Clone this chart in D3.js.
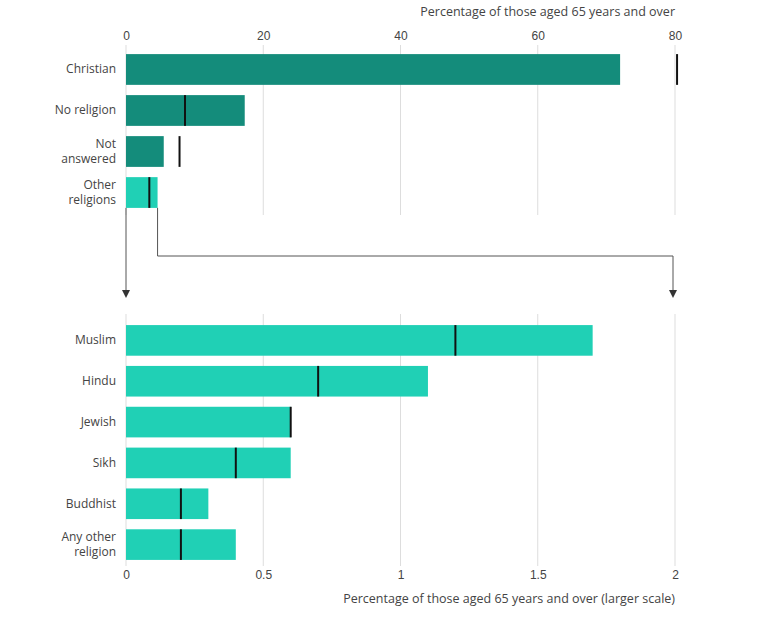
<!DOCTYPE html>
<html><head><meta charset="utf-8">
<script src="https://cdn.jsdelivr.net/npm/d3@7"></script>
<style>body{margin:0;background:#fff;font-family:"Open Sans",sans-serif;}text{fill:#444;font-size:12px;}</style>
</head><body><script>
const topCats = ["Christian","No religion","Not answered","Other religions"];
const topValues = [72, 17.3, 5.5, 4.6];
const topMarkers = [80.3, 8.6, 7.8, 3.4];
const topColors = ["#148c7b","#148c7b","#148c7b","#20d0b5"];
const topTicks = [0,20,40,60,80];
const botCats = ["Muslim","Hindu","Jewish","Sikh","Buddhist","Any other religion"];
const botValues = [1.7, 1.1, 0.6, 0.6, 0.3, 0.4];
const botMarkers = [1.2, 0.7, 0.6, 0.4, 0.2, 0.2];
const botTicks = [0,0.5,1,1.5,2];

const svg = d3.select("body").append("svg").attr("width",761).attr("height",620);
const x1 = d3.scaleLinear().domain([0,80]).range([126,675]);
const x2 = d3.scaleLinear().domain([0,2]).range([126,675]);
const y1 = d3.scaleBand().domain(topCats).range([50,212]).paddingInner(0.25).paddingOuter(0.1);
const y2 = d3.scaleBand().domain(botCats).range([321,564]).paddingInner(0.25).paddingOuter(0.1);

function label(g, y, d){
  const words = d==="Not answered"?["Not","answered"]:d==="Other religions"?["Other","religions"]:d==="Any other religion"?["Any other","religion"]:[d];
  const t = g.append("text").attr("x",116).attr("text-anchor","end");
  words.forEach((w,i)=>t.append("tspan").attr("x",116)
    .attr("y", y + 4 + (i-(words.length-1)/2)*15).text(w));
}

// top
svg.append("g").selectAll("line").data(topTicks).join("line")
  .attr("x1",d=>x1(d)).attr("x2",d=>x1(d)).attr("y1",45).attr("y2",215)
  .attr("stroke","#ddd");
svg.append("g").attr("transform","translate(0,45)")
  .call(d3.axisTop(x1).tickValues(topTicks).tickSize(0).tickPadding(5))
  .call(g=>g.select(".domain").remove())
  .call(g=>g.selectAll("text").style("font-size","12px").attr("fill","#555"));
svg.append("text").attr("x",675).attr("y",16).attr("text-anchor","end").style("font-size","12.5px").text("Percentage of those aged 65 years and over");
topCats.forEach((c,i)=>{
  const y=y1(c);
  svg.append("rect").attr("x",x1(0)).attr("y",y).attr("width",x1(topValues[i])-x1(0)).attr("height",y1.bandwidth()).attr("fill",topColors[i]);
  svg.append("line").attr("x1",x1(topMarkers[i])).attr("x2",x1(topMarkers[i])).attr("y1",y).attr("y2",y+y1.bandwidth()).attr("stroke","#111").attr("stroke-width",2);
  label(svg,y+y1.bandwidth()/2,c);
});

// connector
const oy = y1("Other religions")+y1.bandwidth();
svg.append("path").attr("fill","none").attr("stroke","#555")
  .attr("d",`M${x1(0)},${oy}V290M${x1(topValues[3])},${oy}V256H${x2(2)-2}V290`);
svg.append("path").attr("fill","#333").attr("d",`M${x1(0)-4},290h8l-4,8z`);
svg.append("path").attr("fill","#333").attr("d",`M${x2(2)-6},290h8l-4,8z`);

// bottom
svg.append("g").selectAll("line").data(botTicks).join("line")
  .attr("x1",d=>x2(d)).attr("x2",d=>x2(d)).attr("y1",314).attr("y2",566)
  .attr("stroke","#ddd");
svg.append("g").attr("transform","translate(0,566)")
  .call(d3.axisBottom(x2).tickValues(botTicks).tickFormat(d3.format("")).tickSize(0).tickPadding(4))
  .call(g=>g.select(".domain").remove())
  .call(g=>g.selectAll("text").style("font-size","12px").attr("fill","#555"));
svg.append("text").attr("x",675).attr("y",603).attr("text-anchor","end").style("font-size","12.5px").text("Percentage of those aged 65 years and over (larger scale)");
botCats.forEach((c,i)=>{
  const y=y2(c);
  svg.append("rect").attr("x",x2(0)).attr("y",y).attr("width",x2(botValues[i])-x2(0)).attr("height",y2.bandwidth()).attr("fill","#20d0b5");
  svg.append("line").attr("x1",x2(botMarkers[i])).attr("x2",x2(botMarkers[i])).attr("y1",y).attr("y2",y+y2.bandwidth()).attr("stroke","#111").attr("stroke-width",2);
  label(svg,y+y2.bandwidth()/2,c);
});
</script></body></html>
